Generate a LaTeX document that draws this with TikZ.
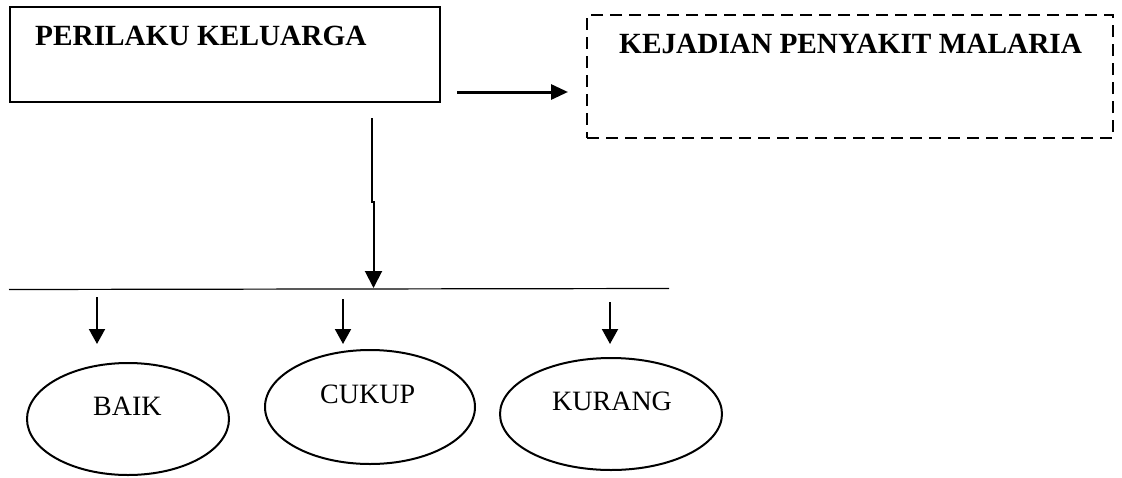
\documentclass[tikz,border=0pt]{standalone}
\usepackage{fontspec}
\setmainfont{Liberation Serif}
\usetikzlibrary{arrows.meta,shapes.geometric,calc}
\tikzset{
  boxline/.style={draw=black, line width=2pt},
  dashbox/.style={draw=black, line width=2pt, dash pattern=on 12pt off 7pt},
  oval/.style={draw=black, ellipse, line width=2pt, inner sep=0pt},
  boldlabel/.style={font=\fontsize{29.3}{32}\selectfont\bfseries, anchor=base west, inner sep=0pt},
  plainlabel/.style={font=\fontsize{28}{31}\selectfont, anchor=base west, inner sep=0pt},
  arr/.style={line width=2pt, -{Triangle[length=15pt,width=16pt]}},
  bigarr/.style={line width=2pt, -{Triangle[length=17pt,width=17pt]}},
  thickarr/.style={line width=3pt, -{Triangle[length=17pt,width=15pt]}},
}
\begin{document}
\begin{tikzpicture}[x=1pt,y=-1pt]
\useasboundingbox (0,0) rectangle (1122,477);
% top boxes
\node[boxline, rectangle, minimum width=430pt, minimum height=95pt, inner sep=0pt] (keluarga) at (225,54.5) {};
\node[boldlabel] (keluargaT) at (35,45) {PERILAKU KELUARGA};
\node[dashbox, rectangle, minimum width=526pt, minimum height=123pt, inner sep=0pt] (malaria) at (850,76.5) {};
\node[boldlabel] (malariaT) at (619,53) {KEJADIAN PENYAKIT MALARIA};
% horizontal arrow
\coordinate (h1) at (457,92);
\coordinate (h2) at (568,92);
\draw[thickarr] (h1) -- (h2);
% vertical line with jog
\coordinate (v1) at (372,118);
\coordinate (v2) at (372,202);
\coordinate (v3) at (373.5,202);
\coordinate (v4) at (373.5,288);
\draw[line width=2pt] (v1) -- (v2) -- (v3) -- ($(v4)+(0,-15)$);
\draw[bigarr] ($(v4)+(0,-18)$) -- (v4);
% branch line
\coordinate (b1) at (9,289.5);
\coordinate (b2) at (669,288.5);
\draw[line width=1.2pt] (b1) -- (b2);
% ellipses
\node[oval, minimum width=202pt, minimum height=112pt] (baik) at (128,419) {};
\node[plainlabel] (baikT) at (93,415) {BAIK};
\node[oval, minimum width=210pt, minimum height=114pt] (cukup) at (370,407) {};
\node[plainlabel] (cukupT) at (320,403) {CUKUP};
\node[oval, minimum width=222pt, minimum height=112pt] (kurang) at (611,414) {};
\node[plainlabel] (kurangT) at (552,410) {KURANG};
% small arrows
\coordinate (a1) at (97,297);
\coordinate (a1e) at (97,344);
\coordinate (a2) at (343,299);
\coordinate (a2e) at (343,344);
\coordinate (a3) at (610,302);
\coordinate (a3e) at (610,344);
\draw[arr] (a1) -- (a1e);
\draw[arr] (a2) -- (a2e);
\draw[arr] (a3) -- (a3e);
\end{tikzpicture}
\end{document}
